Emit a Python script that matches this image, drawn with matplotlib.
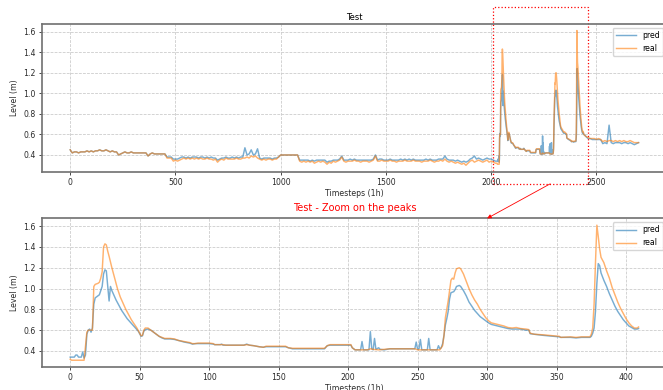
import numpy as np
import matplotlib.pyplot as plt
from matplotlib.patches import Rectangle, ConnectionPatch
from matplotlib.transforms import blended_transform_factory

# first timestep of the zoomed window inside the test series
ZOOM_START = 2028

# test series before the zoom window, read every 10 steps (t = 0 .. 2020)
pre_step = 10
pre_real = [
    0.45, 0.42, 0.43, 0.43, 0.42, 0.43, 0.43, 0.43, 0.44, 0.43,
    0.44, 0.43, 0.44, 0.44, 0.45, 0.44, 0.44, 0.45, 0.44, 0.43,
    0.44, 0.43, 0.43, 0.40, 0.41, 0.42, 0.43, 0.42, 0.42, 0.43,
    0.42, 0.42, 0.42, 0.42, 0.42, 0.42, 0.42, 0.39, 0.41, 0.42,
    0.41, 0.41, 0.41, 0.41, 0.41, 0.41, 0.37, 0.37, 0.37, 0.34,
    0.35, 0.34, 0.35, 0.36, 0.37, 0.36, 0.37, 0.36, 0.37, 0.36,
    0.37, 0.36, 0.37, 0.36, 0.36, 0.37, 0.36, 0.36, 0.35, 0.36,
    0.33, 0.35, 0.36, 0.35, 0.37, 0.36, 0.36, 0.36, 0.36, 0.37,
    0.36, 0.36, 0.37, 0.37, 0.38, 0.37, 0.39, 0.38, 0.39, 0.37,
    0.36, 0.35, 0.36, 0.35, 0.36, 0.36, 0.35, 0.36, 0.36, 0.38,
    0.40, 0.40, 0.40, 0.40, 0.40, 0.40, 0.40, 0.40, 0.40, 0.34,
    0.33, 0.34, 0.33, 0.34, 0.33, 0.34, 0.32, 0.33, 0.34, 0.33,
    0.34, 0.33, 0.31, 0.33, 0.32, 0.34, 0.33, 0.34, 0.35, 0.38,
    0.34, 0.33, 0.34, 0.34, 0.34, 0.35, 0.34, 0.34, 0.33, 0.34,
    0.34, 0.34, 0.33, 0.34, 0.35, 0.39, 0.34, 0.34, 0.35, 0.34,
    0.34, 0.34, 0.35, 0.34, 0.34, 0.33, 0.34, 0.34, 0.34, 0.35,
    0.34, 0.34, 0.34, 0.35, 0.34, 0.34, 0.34, 0.33, 0.34, 0.34,
    0.34, 0.35, 0.34, 0.33, 0.34, 0.34, 0.35, 0.34, 0.36, 0.34,
    0.33, 0.34, 0.33, 0.32, 0.33, 0.32, 0.31, 0.32, 0.30, 0.32,
    0.34, 0.35, 0.33, 0.34, 0.35, 0.34, 0.33, 0.34, 0.35, 0.33,
    0.34, 0.33, 0.32,
]
pre_pred = [
    0.45, 0.42, 0.43, 0.43, 0.42, 0.43, 0.43, 0.43, 0.44, 0.43,
    0.44, 0.43, 0.44, 0.44, 0.45, 0.44, 0.44, 0.45, 0.44, 0.43,
    0.44, 0.43, 0.43, 0.40, 0.41, 0.42, 0.43, 0.42, 0.42, 0.43,
    0.42, 0.42, 0.42, 0.42, 0.42, 0.42, 0.42, 0.39, 0.41, 0.42,
    0.41, 0.41, 0.41, 0.41, 0.41, 0.41, 0.38, 0.38, 0.38, 0.36,
    0.36, 0.36, 0.37, 0.38, 0.38, 0.37, 0.38, 0.37, 0.38, 0.38,
    0.38, 0.37, 0.38, 0.38, 0.37, 0.38, 0.37, 0.38, 0.37, 0.37,
    0.35, 0.36, 0.37, 0.37, 0.38, 0.37, 0.37, 0.38, 0.37, 0.38,
    0.37, 0.38, 0.38, 0.47, 0.40, 0.41, 0.45, 0.40, 0.41, 0.46,
    0.37, 0.36, 0.37, 0.37, 0.37, 0.37, 0.36, 0.37, 0.37, 0.38,
    0.40, 0.40, 0.40, 0.40, 0.40, 0.40, 0.40, 0.40, 0.40, 0.35,
    0.35, 0.35, 0.35, 0.35, 0.34, 0.35, 0.34, 0.35, 0.35, 0.35,
    0.35, 0.35, 0.33, 0.34, 0.34, 0.35, 0.35, 0.35, 0.36, 0.39,
    0.35, 0.35, 0.35, 0.36, 0.35, 0.36, 0.35, 0.35, 0.35, 0.35,
    0.35, 0.35, 0.35, 0.35, 0.36, 0.40, 0.35, 0.36, 0.36, 0.35,
    0.35, 0.35, 0.36, 0.35, 0.35, 0.35, 0.35, 0.36, 0.35, 0.36,
    0.35, 0.36, 0.35, 0.36, 0.35, 0.35, 0.35, 0.35, 0.35, 0.36,
    0.35, 0.36, 0.35, 0.35, 0.35, 0.36, 0.36, 0.36, 0.39, 0.36,
    0.35, 0.35, 0.35, 0.34, 0.35, 0.34, 0.33, 0.34, 0.33, 0.34,
    0.36, 0.37, 0.39, 0.36, 0.37, 0.36, 0.35, 0.36, 0.37, 0.36,
    0.36, 0.35, 0.34,
]

# zoom window (t relative to ZOOM_START), (t, level) pairs
zoom_real_pts = [
    (0, 0.32), (1, 0.31), (10, 0.31), (11, 0.45), (12, 0.58), (13, 0.60),
    (16, 0.60), (17, 1.02), (18, 1.04), (20, 1.05), (21, 1.06), (22, 1.10),
    (23, 1.16), (24, 1.40), (25, 1.43), (26, 1.42), (27, 1.36), (28, 1.31),
    (30, 1.20), (32, 1.10), (34, 1.00), (36, 0.92), (38, 0.86), (40, 0.80),
    (42, 0.75), (44, 0.70), (46, 0.66), (48, 0.62), (50, 0.57), (51, 0.545),
    (52, 0.55), (53, 0.60), (54, 0.62), (56, 0.62), (58, 0.60), (60, 0.58),
    (62, 0.56), (64, 0.54), (66, 0.53), (68, 0.52), (72, 0.52), (75, 0.515),
    (78, 0.50), (82, 0.49), (86, 0.48), (88, 0.47), (90, 0.47), (92, 0.475),
    (100, 0.475), (103, 0.47), (104, 0.46), (110, 0.46), (112, 0.455),
    (125, 0.455), (127, 0.46), (129, 0.455), (132, 0.45), (136, 0.44),
    (139, 0.435), (141, 0.445), (155, 0.445), (157, 0.43), (160, 0.425),
    (183, 0.425), (185, 0.45), (187, 0.46), (202, 0.46), (203, 0.43),
    (205, 0.41), (210, 0.41), (214, 0.41), (216, 0.42), (218, 0.415),
    (222, 0.41), (226, 0.415), (230, 0.42), (248, 0.42), (250, 0.41),
    (266, 0.41), (268, 0.45), (269, 0.55), (270, 0.72), (271, 0.80),
    (272, 0.88), (273, 0.98), (274, 1.08), (275, 1.10), (276, 1.09),
    (277, 1.15), (278, 1.19), (280, 1.20), (281, 1.19), (283, 1.14),
    (285, 1.07), (287, 1.00), (289, 0.94), (291, 0.89), (293, 0.85),
    (295, 0.80), (297, 0.76), (299, 0.72), (301, 0.69), (303, 0.67),
    (306, 0.66), (309, 0.65), (312, 0.64), (315, 0.625), (318, 0.62),
    (321, 0.625), (324, 0.615), (328, 0.61), (330, 0.605), (331, 0.57),
    (334, 0.56), (340, 0.555), (344, 0.55), (348, 0.545), (352, 0.54),
    (353, 0.53), (360, 0.535), (364, 0.53), (368, 0.535), (374, 0.535),
    (375, 0.56), (376, 0.62), (377, 0.85), (378, 1.25), (379, 1.61),
    (380, 1.50), (381, 1.38), (382, 1.30), (384, 1.25), (386, 1.17),
    (388, 1.10), (390, 1.01), (392, 0.94), (394, 0.87), (396, 0.81),
    (398, 0.76), (400, 0.71), (402, 0.67), (404, 0.64), (406, 0.62),
    (408, 0.62), (409, 0.63),
]
zoom_pred_pts = [
    (0, 0.34), (3, 0.34), (4, 0.36), (5, 0.36), (6, 0.34), (8, 0.34),
    (9, 0.39), (10, 0.33), (11, 0.36), (12, 0.56), (13, 0.60), (14, 0.61),
    (15, 0.58), (16, 0.62), (17, 0.85), (18, 0.91), (19, 0.92), (20, 0.93),
    (21, 0.94), (22, 0.98), (23, 1.02), (24, 1.14), (25, 1.18), (26, 1.17),
    (27, 1.03), (28, 0.88), (29, 1.02), (30, 0.98), (31, 0.95), (33, 0.89),
    (35, 0.84), (37, 0.79), (39, 0.75), (41, 0.71), (43, 0.68), (45, 0.65),
    (47, 0.62), (49, 0.59), (51, 0.54), (52, 0.545), (53, 0.59), (54, 0.605),
    (56, 0.61), (58, 0.60), (60, 0.58), (62, 0.56), (64, 0.54), (66, 0.525),
    (68, 0.515), (72, 0.515), (75, 0.51), (78, 0.50), (82, 0.485),
    (86, 0.475), (88, 0.465), (90, 0.47), (92, 0.47), (100, 0.47),
    (103, 0.465), (104, 0.46), (108, 0.46), (109, 0.465), (110, 0.455),
    (125, 0.455), (127, 0.465), (129, 0.455), (132, 0.45), (136, 0.44),
    (139, 0.435), (141, 0.44), (155, 0.44), (157, 0.43), (160, 0.42),
    (183, 0.42), (185, 0.45), (187, 0.455), (202, 0.455), (203, 0.43),
    (205, 0.41), (209, 0.41), (210, 0.49), (211, 0.41), (215, 0.41),
    (216, 0.585), (217, 0.42), (218, 0.41), (219, 0.52), (220, 0.415),
    (222, 0.43), (223, 0.415), (226, 0.41), (230, 0.42), (248, 0.42),
    (249, 0.485), (250, 0.415), (251, 0.42), (252, 0.51), (253, 0.41),
    (257, 0.41), (258, 0.52), (259, 0.41), (264, 0.41), (265, 0.45),
    (266, 0.42), (267, 0.43), (268, 0.47), (269, 0.55), (270, 0.65),
    (271, 0.71), (272, 0.78), (273, 0.90), (274, 0.96), (276, 0.97),
    (277, 0.99), (278, 1.02), (280, 1.03), (281, 1.02), (283, 0.98),
    (285, 0.93), (287, 0.87), (289, 0.83), (291, 0.79), (293, 0.76),
    (295, 0.73), (297, 0.71), (299, 0.69), (301, 0.67), (303, 0.655),
    (306, 0.645), (309, 0.635), (312, 0.625), (315, 0.615), (318, 0.61),
    (321, 0.61), (324, 0.61), (328, 0.60), (330, 0.60), (331, 0.565),
    (334, 0.56), (340, 0.55), (344, 0.545), (348, 0.54), (352, 0.535),
    (353, 0.53), (360, 0.53), (364, 0.525), (368, 0.53), (374, 0.53),
    (375, 0.54), (376, 0.57), (377, 0.62), (378, 0.78), (379, 1.05),
    (380, 1.24), (381, 1.22), (382, 1.15), (384, 1.08), (386, 1.02),
    (388, 0.95), (390, 0.89), (392, 0.83), (394, 0.78), (396, 0.74),
    (398, 0.70), (400, 0.67), (402, 0.64), (404, 0.625), (406, 0.61),
    (408, 0.61), (409, 0.615),
]

# test series after the zoom window, read every 10 steps (t = 2440 .. 2700)
post_start = 2440
post_real = [0.60, 0.58, 0.57, 0.56, 0.56, 0.56, 0.55, 0.56, 0.55, 0.53,
             0.54, 0.53, 0.54, 0.54, 0.53, 0.54, 0.53, 0.54, 0.53, 0.54,
             0.53, 0.53, 0.54, 0.53, 0.52, 0.52, 0.52]
post_pred = [0.60, 0.58, 0.56, 0.56, 0.55, 0.55, 0.55, 0.55, 0.55, 0.51,
             0.52, 0.51, 0.69, 0.52, 0.51, 0.52, 0.52, 0.52, 0.51, 0.52,
             0.52, 0.51, 0.52, 0.51, 0.50, 0.51, 0.52]

zr_t, zr_v = map(np.array, zip(*zoom_real_pts))
zp_t, zp_v = map(np.array, zip(*zoom_pred_pts))
pre_x = np.arange(len(pre_real)) * pre_step
post_x = post_start + np.arange(len(post_real)) * pre_step

real_x = np.concatenate([pre_x, ZOOM_START + zr_t, post_x])
real_y = np.concatenate([pre_real, zr_v, post_real])
pred_x = np.concatenate([pre_x, ZOOM_START + zp_t, post_x])
pred_y = np.concatenate([pre_pred, zp_v, post_pred])

FS = 5.6
BLUE = '#1f77b4'
ORANGE = '#ff7f0e'
LW = 1.05

fig = plt.figure(figsize=(6.63, 3.90), dpi=100)
ax1 = fig.add_axes([0.063, 0.559, 0.943, 0.380])
ax2 = fig.add_axes([0.063, 0.059, 0.943, 0.381])


def style(ax):
    ax.grid(True, linestyle='--', color='#c8c8c8', linewidth=0.55)
    for s in ax.spines.values():
        s.set_color('#707070')
        s.set_linewidth(1.2)
    ax.tick_params(labelsize=FS, length=2.5, width=0.6, colors='#2a2a2a', pad=2)
    ax.set_xlabel('Timesteps (1h)', fontsize=FS, labelpad=1, color='#2a2a2a')
    ax.set_ylabel('Level (m)', fontsize=FS, labelpad=3, color='#2a2a2a')
    ax.legend(loc='upper right', fontsize=FS, handlelength=2.6)


ax1.plot(pred_x, pred_y, color=BLUE, alpha=0.6, lw=LW, label='pred')
ax1.plot(real_x, real_y, color=ORANGE, alpha=0.6, lw=LW, label='real')
ax1.set_title('Test', fontsize=6, pad=3)
style(ax1)

ax2.plot(zp_t, zp_v, color=BLUE, alpha=0.6, lw=LW, label='pred')
ax2.plot(zr_t, zr_v, color=ORANGE, alpha=0.6, lw=LW, label='real')
ax2.set_title('Test - Zoom on the peaks', fontsize=7, color='red', pad=5)
style(ax2)

# red dotted box on the top plot, covering the x-range of the zoom plot
z0, z1 = ax2.get_xlim()
trans = blended_transform_factory(ax1.transData, ax1.transAxes)
box = Rectangle((ZOOM_START + z0, -0.08), z1 - z0, 1.193, transform=trans,
                fill=False, edgecolor='red', linestyle=':', linewidth=0.9,
                clip_on=False)
ax1.add_patch(box)

con = ConnectionPatch(xyA=(ZOOM_START + 252, -0.08), coordsA=trans,
                      xyB=(300, 1.0), coordsB=ax2.get_xaxis_transform(),
                      arrowstyle='-|>', color='red', linewidth=0.6,
                      mutation_scale=6)
fig.add_artist(con)

fig.savefig('out.png', dpi=100)
